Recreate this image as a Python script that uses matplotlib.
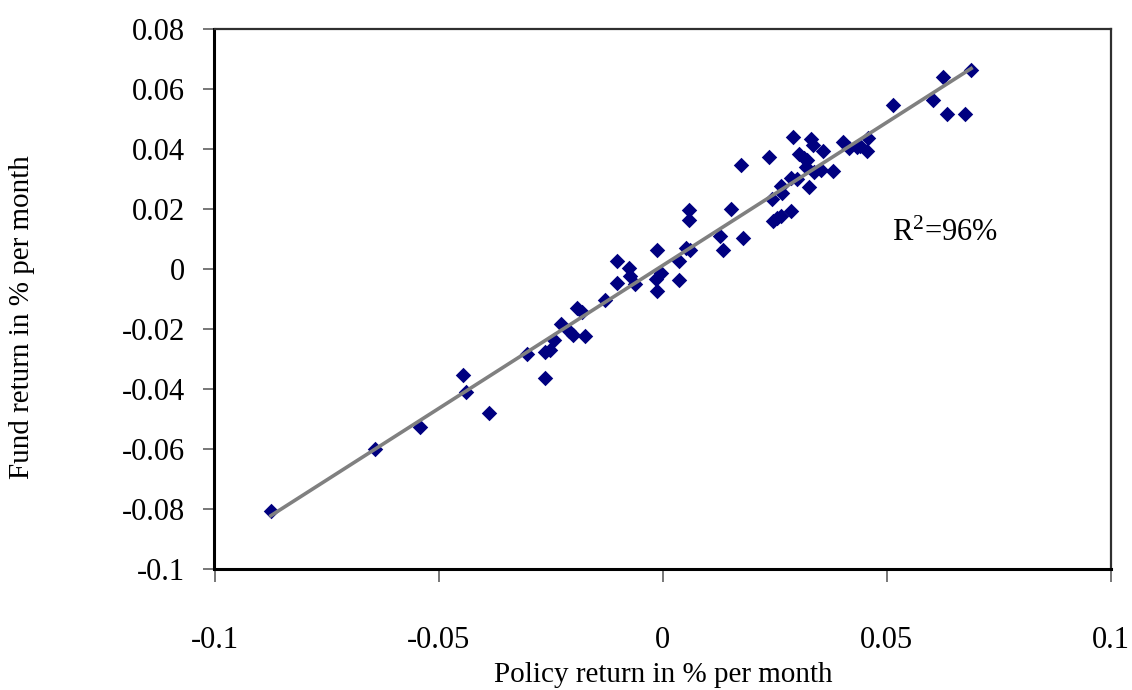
import numpy as np
import matplotlib
matplotlib.use("Agg")
import matplotlib.pyplot as plt

plt.rcParams['font.family'] = ['Liberation Serif', 'DejaVu Serif']
plt.rcParams['mathtext.fontset'] = 'custom'
plt.rcParams['mathtext.rm'] = 'Liberation Serif'
plt.rcParams['mathtext.it'] = 'Liberation Serif:italic'
plt.rcParams['mathtext.bf'] = 'Liberation Serif:bold'

policy = [-0.0874, -0.0641, -0.0542, -0.0439, -0.0445, -0.0388, -0.0302, -0.0263,
          -0.0263, -0.0252, -0.0243, -0.0227, -0.0210, -0.0200, -0.0191, -0.0180,
          -0.0174, -0.0128, -0.0102, -0.0102, -0.0076, -0.0072, -0.0061, -0.0013,
          -0.0016, -0.0013, -0.0005, 0.0036, 0.0036, 0.0051, 0.0061, 0.0059,
          0.0059, 0.0127, 0.0135, 0.0153, 0.0175, 0.0179, 0.0238, 0.0243,
          0.0246, 0.0255, 0.0263, 0.0263, 0.0267, 0.0287, 0.0287, 0.0300,
          0.0290, 0.0303, 0.0315, 0.0322, 0.0320, 0.0326, 0.0331, 0.0336,
          0.0337, 0.0352, 0.0358, 0.0379, 0.0402, 0.0415, 0.0434, 0.0441,
          0.0456, 0.0459, 0.0513, 0.0602, 0.0625, 0.0634, 0.0675, 0.0688]
fund = [-0.0806, -0.0600, -0.0527, -0.0409, -0.0354, -0.0480, -0.0282, -0.0362,
        -0.0276, -0.0271, -0.0238, -0.0183, -0.0205, -0.0219, -0.0131, -0.0142,
        -0.0223, -0.0102, 0.0027, -0.0045, 0.0005, -0.0023, -0.0050, 0.0062,
        -0.0034, -0.0072, -0.0012, 0.0027, -0.0037, 0.0071, 0.0062, 0.0198,
        0.0162, 0.0110, 0.0062, 0.0201, 0.0347, 0.0102, 0.0374, 0.0234,
        0.0161, 0.0170, 0.0178, 0.0278, 0.0253, 0.0303, 0.0195, 0.0299,
        0.0440, 0.0385, 0.0369, 0.0363, 0.0341, 0.0275, 0.0435, 0.0413,
        0.0325, 0.0330, 0.0393, 0.0327, 0.0424, 0.0402, 0.0407, 0.0410,
        0.0393, 0.0438, 0.0546, 0.0564, 0.0639, 0.0518, 0.0518, 0.0664]

x_ticks = [-0.1, -0.05, 0, 0.05, 0.1]
x_labels = ['-0.1', '-0.05', '0', '0.05', '0.1']
y_ticks = [-0.1, -0.08, -0.06, -0.04, -0.02, 0, 0.02, 0.04, 0.06, 0.08]
y_labels = ['-0.1', '-0.08', '-0.06', '-0.04', '-0.02', '0', '0.02', '0.04', '0.06', '0.08']

fig = plt.figure(figsize=(11.32, 6.9), dpi=100)
ax = fig.add_axes([214.5/1132, 1-569/690, (1111-214.5)/1132, (569-29)/690])

px = np.array(policy)
fy = np.array(fund)
ax.scatter(px, fy, marker='D', s=62, color='#000080', linewidths=0, zorder=3)
slope, icpt = np.polyfit(px, fy, 1)
xs = np.array([px.min(), px.max()])
ax.plot(xs, slope*xs + icpt, color='#808080', lw=2.6, zorder=4)

ax.text(0.0512, 0.0118, r'R$^{2}$=96%', fontsize=22, ha='left', va='center')

ax.set_xlim(-0.1, 0.1)
ax.set_ylim(-0.1, 0.08)
ax.set_xticks(x_ticks)
ax.set_xticklabels(x_labels)
ax.set_yticks(y_ticks)
ax.set_yticklabels(y_labels)
ax.tick_params(axis='x', direction='out', length=9, width=1.2, color='#606060',
               labelsize=22, pad=32)
ax.tick_params(axis='y', direction='out', length=8, width=1.2, color='#606060',
               labelsize=22, pad=13)
for s in ['left', 'bottom']:
    ax.spines[s].set_linewidth(2.2)
    ax.spines[s].set_color('black')
for s in ['top', 'right']:
    ax.spines[s].set_linewidth(1.6)
    ax.spines[s].set_color('#303030')

ax.set_xlabel('Policy return in % per month', fontsize=21, va='center')
ax.xaxis.set_label_coords(0.5, -(675 - 569) / 540)
ax.set_ylabel('Fund return in % per month', fontsize=21, va='center')
ax.yaxis.set_label_coords((22 - 214.5) / 896.5, (569 - 317.5) / 540)

fig.savefig('out.png', dpi=100)
